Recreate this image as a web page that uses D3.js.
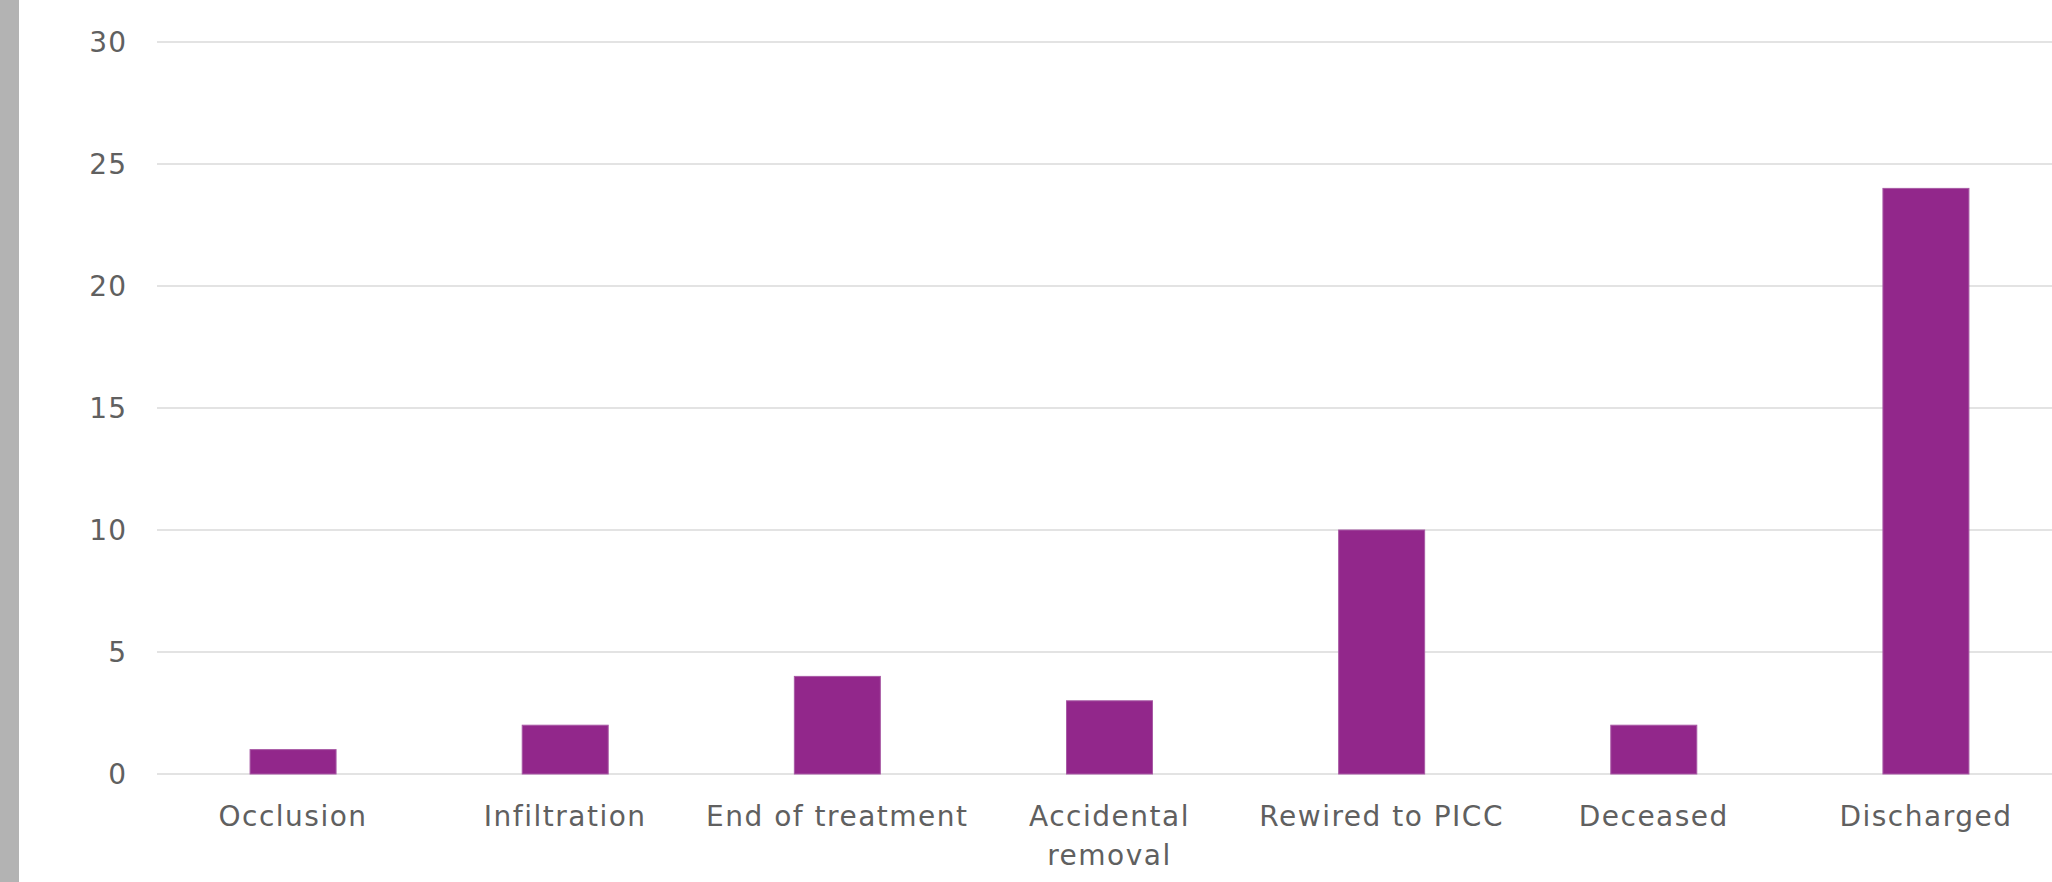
<!DOCTYPE html>
<html>
<head>
<meta charset="utf-8">
<script src="https://cdn.jsdelivr.net/npm/d3@7/dist/d3.min.js"></script>
<style>
  html, body { margin: 0; padding: 0; background: #ffffff; overflow: hidden; }
  svg { display: block; }
  .tick-label { font-family: "DejaVu Sans", sans-serif; fill: #606060; }
</style>
</head>
<body>
<svg id="chart" width="2052" height="882"></svg>
<script>
// Catheter outcome counts
const categories = ["Occlusion", "Infiltration", "End of treatment", "Accidental removal", "Rewired to PICC", "Deceased", "Discharged"];
const counts = [1, 2, 4, 3, 10, 2, 24];
const yTicks = [0, 5, 10, 15, 20, 25, 30];

const W = 2052, H = 882;
const plot = { left: 157, right: 2062, top: 42, bottom: 774 };
const fontSize = 28;

const svg = d3.select("#chart");

// grey strip down the left edge
svg.append("rect").attr("x", 0).attr("y", 0).attr("width", 19).attr("height", H).attr("fill", "#b3b3b3");

const x = d3.scaleBand()
  .domain(categories)
  .range([plot.left, plot.right])
  .paddingInner(0.684)
  .paddingOuter(0.342);

const y = d3.scaleLinear().domain([0, 30]).range([plot.bottom, plot.top]);

// horizontal gridlines
svg.append("g")
  .selectAll("line")
  .data(yTicks)
  .join("line")
  .attr("x1", plot.left)
  .attr("x2", plot.right)
  .attr("y1", d => y(d))
  .attr("y2", d => y(d))
  .attr("stroke", "#e3e3e3")
  .attr("stroke-width", 2);

// y-axis values
svg.append("g")
  .selectAll("text")
  .data(yTicks)
  .join("text")
  .attr("class", "tick-label")
  .attr("x", 127)
  .attr("y", d => y(d))
  .attr("dy", "0.36em")
  .attr("text-anchor", "end")
  .style("font-size", fontSize + "px")
  .style("letter-spacing", "1px")
  .text(d => d);

// bars
svg.append("g")
  .selectAll("rect")
  .data(categories.map((c, i) => ({ c, v: counts[i] })))
  .join("rect")
  .attr("x", d => x(d.c))
  .attr("width", x.bandwidth())
  .attr("y", d => y(d.v))
  .attr("height", d => y(0) - y(d.v))
  .attr("fill", "#92278b")
  .attr("stroke", "#a85aa5")
  .attr("stroke-width", 1);

// category labels, wrapped where the band is too narrow
const labelWrap = { "Accidental removal": ["Accidental", "removal"] };
const labels = svg.append("g")
  .selectAll("text")
  .data(categories)
  .join("text")
  .attr("class", "tick-label")
  .attr("text-anchor", "middle")
  .attr("x", d => x(d) + x.bandwidth() / 2)
  .attr("y", 826)
  .style("font-size", fontSize + "px")
  .style("letter-spacing", "1.5px");

labels.each(function(d) {
  const lines = labelWrap[d] || [d];
  const t = d3.select(this);
  lines.forEach((ln, i) => {
    t.append("tspan")
      .attr("x", x(d) + x.bandwidth() / 2)
      .attr("dy", i === 0 ? 0 : 39)
      .text(ln);
  });
});
</script>
</body>
</html>
